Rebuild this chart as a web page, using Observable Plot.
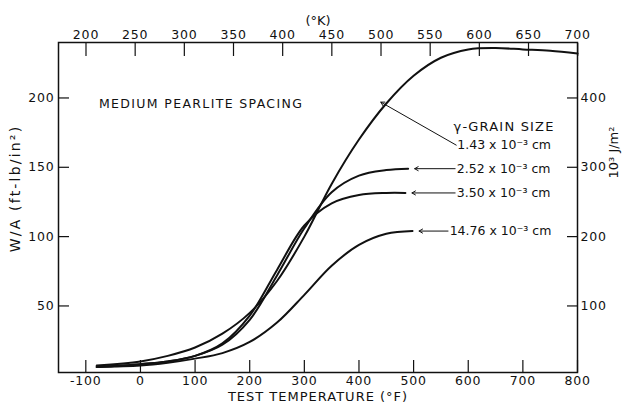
<!DOCTYPE html>
<html><head><meta charset="utf-8">
<script src="https://cdn.jsdelivr.net/npm/d3@7"></script>
<script src="https://cdn.jsdelivr.net/npm/@observablehq/plot@0.6"></script>
<style>
body{margin:0;background:#fff} svg{display:block}
</style>
</head><body><div id="chart"></div>
<script>
// Test temperature (°F) and W/A (ft-lb/in²) per austenite grain size
const grainLabels = ["1.43 x 10⁻³ cm", "2.52 x 10⁻³ cm", "3.50 x 10⁻³ cm", "14.76 x 10⁻³ cm"];
const temp143 = [-80, 0, 50, 100, 150, 200, 250, 300, 350, 400, 450, 500, 550, 600, 650, 700, 750, 800];
const wa143   = [7, 10, 14, 20, 30, 45, 68, 100, 138, 170, 196, 216, 229, 235, 236, 235, 234, 232];
const temp252 = [-80, 0, 50, 100, 150, 200, 250, 300, 350, 400, 450, 490];
const wa252   = [6, 8, 10, 14, 22, 40, 72, 106, 132, 144, 148, 149];
const temp350 = [-80, 0, 50, 100, 150, 200, 250, 300, 350, 400, 450, 485];
const wa350   = [6, 8, 10, 14, 23, 43, 76, 108, 124, 130, 131.5, 131.5];
const temp1476 = [-80, 0, 50, 100, 150, 200, 250, 300, 350, 400, 450, 498];
const wa1476   = [6, 7, 9, 12, 16, 24, 38, 58, 79, 94, 102, 104];

const fTicks = [-100, 0, 100, 200, 300, 400, 500, 600, 700, 800];
const waTicks = [50, 100, 150, 200];
const kTicks = [200, 250, 300, 350, 400, 450, 500, 550, 600, 650, 700];
const jTicks = [100, 200, 300, 400];

const kToF = k => (k - 273.15) * 9 / 5 + 32;
const jPerWa = 2.0; // 10³ J/m² per ft-lb/in² as drawn on the chart

const series = [
  [temp143, wa143], [temp252, wa252], [temp350, wa350], [temp1476, wa1476]
];
const rows = series.flatMap(([t, w], i) => t.map((x, j) => ({x, y: w[j], s: grainLabels[i]})));
const ends = series.map(([t, w], i) => ({x: t[t.length - 1], y: w[w.length - 1], s: grainLabels[i], wide: i === 3}));

const font = "DejaVu Sans, sans-serif";
const chart = Plot.plot({
  width: 624, height: 406,
  marginTop: 42, marginBottom: 34, marginLeft: 58, marginRight: 47,
  style: {fontFamily: font, fontSize: "12.5px", color: "#111", background: "#fff"},
  x: {domain: [-150, 800]},
  y: {domain: [2, 240]},
  marks: [
    Plot.frame({stroke: "#111", strokeWidth: 1.5}),
    Plot.axisX({ticks: fTicks, tickSize: -12, text: null, label: null, strokeWidth: 1.2}),
    Plot.axisX({ticks: fTicks, tickSize: 0, tickPadding: 4, label: null, tickFormat: d => d}),
    Plot.axisX({anchor: "top", ticks: kTicks.map(kToF), tickSize: -13, text: null, label: null, strokeWidth: 1.2}),
    Plot.axisX({anchor: "top", ticks: kTicks.map(kToF), tickSize: 0, tickPadding: 4, label: null,
      tickFormat: d => Math.round((d - 32) * 5 / 9 + 273.15)}),
    Plot.axisY({ticks: waTicks, tickSize: -11, text: null, label: null, strokeWidth: 1.2}),
    Plot.axisY({ticks: waTicks, tickSize: 0, tickPadding: 4, label: null}),
    Plot.axisY({anchor: "right", ticks: jTicks.map(j => j / jPerWa), tickSize: -11, text: null, label: null, strokeWidth: 1.2}),
    Plot.axisY({anchor: "right", ticks: jTicks.map(j => j / jPerWa), tickSize: 0, tickPadding: 3, label: null,
      tickFormat: d => Math.round(d * jPerWa)}),
    Plot.line(rows, {x: "x", y: "y", z: "s", stroke: "#111", strokeWidth: 2, curve: "catmull-rom"}),
    // annotations for the three short curves
    Plot.arrow(ends.slice(1), {x1: d => d.wide ? 563 : 576, y1: "y", x2: d => d.x + 12, y2: "y",
      stroke: "#111", strokeWidth: 1, headLength: 6}),
    Plot.text(ends.slice(1), {x: d => d.wide ? 566 : 579, y: "y", text: "s", textAnchor: "start", fontSize: 12.5}),
    // 1.43 curve annotation
    Plot.arrow([{x: 440, y: 197}], {x1: 578, y1: 166, x2: "x", y2: "y", stroke: "#111", strokeWidth: 1, headLength: 6}),
    Plot.text([grainLabels[0]], {x: 580, y: 166, text: d => d, textAnchor: "start", fontSize: 12.5}),
    Plot.text(["γ-GRAIN SIZE"], {x: 573, y: 179, text: d => d, textAnchor: "start", fontSize: 13}),
    Plot.text(["MEDIUM PEARLITE SPACING"], {x: -76, y: 196, text: d => d, textAnchor: "start", fontSize: 12.5}),
    // axis titles
    Plot.text(["TEST TEMPERATURE (°F)"], {frameAnchor: "bottom", dy: 28, text: d => d, fontSize: 13}),
    Plot.text(["(°K)"], {frameAnchor: "top", dy: -27, text: d => d, fontSize: 13}),
    Plot.text(["W/A (ft-lb/in²)"], {frameAnchor: "left", dx: -43, dy: -19, rotate: -90, textAnchor: "middle", text: d => d, fontSize: 14}),
    Plot.text(["10³ J/m²"], {frameAnchor: "right", dx: 36, dy: -55, rotate: -90, textAnchor: "middle", text: d => d, fontSize: 13})
  ]
});
// letter spacing for the hand-lettered look
const spacing = {
  "MEDIUM PEARLITE SPACING": 1.35, "TEST TEMPERATURE (°F)": 1.0, "W/A (ft-lb/in²)": 2.2,
  "γ-GRAIN SIZE": 1.2
};
d3.select(chart).selectAll("text").each(function() {
  const t = this.textContent;
  if (spacing[t] != null) this.setAttribute("letter-spacing", spacing[t]);
  else if (/^-?\d+$/.test(t)) this.setAttribute("letter-spacing", 0.8);
});
document.getElementById("chart").append(chart);
</script></body></html>
